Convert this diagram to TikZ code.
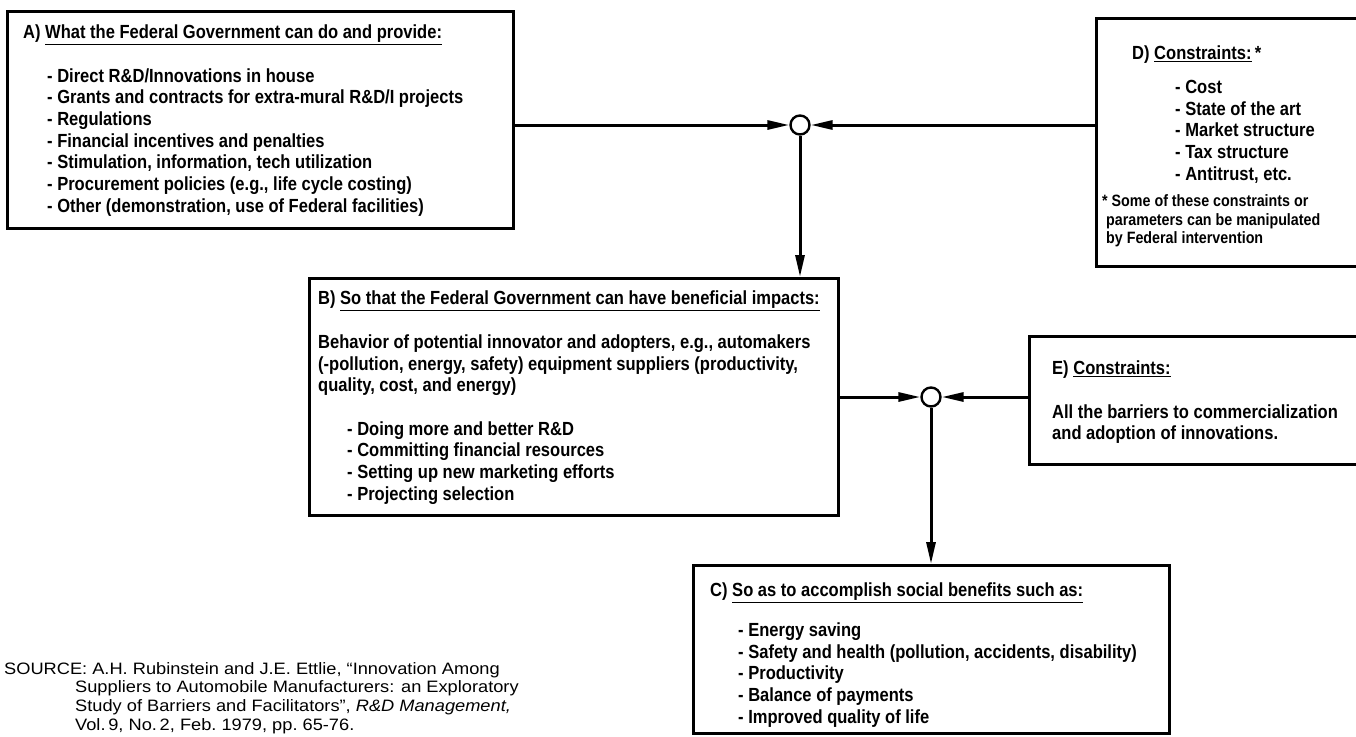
\documentclass[tikz,border=0pt]{standalone}
\usepackage{fontspec}
\setmainfont{Liberation Sans}
\newfontfamily\condfont{Liberation Sans}[FakeStretch=0.87]
\newfontfamily\srcfont{Liberation Sans}[FakeStretch=1.105]
\usetikzlibrary{arrows.meta,positioning,calc}

\newcommand{\footsize}{\fontsize{16.4}{18.5}\selectfont}

\tikzset{
  box/.style={draw, line width=2.6pt, anchor=north west, inner sep=0pt},
  boxtext/.style={align=left, inner sep=0pt,
    font=\condfont\bfseries\fontsize{19}{21.7}\selectfont},
  junction/.style={circle, draw, line width=2.4pt, fill=white, minimum size=19pt, inner sep=0pt},
  link/.style={line width=3pt, -{Triangle[length=22pt,width=9pt]}},
}

\begin{document}
\begin{tikzpicture}[x=1pt,y=-1pt]
  \useasboundingbox (0,0) rectangle (1356,736);
  \fill[white] (0,0) rectangle (1356,736);
  % boxes
  \node[box, minimum width=506pt, minimum height=217pt] (A) at (6,10) {};
  \node[box, minimum width=320pt, minimum height=248pt] (D) at (1095,17) {};
  \node[box, minimum width=529pt, minimum height=237pt] (B) at (308,277) {};
  \node[box, minimum width=340pt, minimum height=128pt] (E) at (1028,335) {};
  \node[box, minimum width=476pt, minimum height=168pt] (C) at (692,564) {};
  % box texts
  \node[boxtext, below right=14.4pt and 17pt of A.north west] (At)
    {A) \underline{What the Federal Government can do and provide:}\\[22pt]
     \hspace*{24pt}- Direct R\&D/Innovations in house\\
     \hspace*{24pt}- Grants and contracts for extra-mural R\&D/I projects\\
     \hspace*{24pt}- Regulations\\
     \hspace*{24pt}- Financial incentives and penalties\\
     \hspace*{24pt}- Stimulation, information, tech utilization\\
     \hspace*{24pt}- Procurement policies (e.g., life cycle costing)\\
     \hspace*{24pt}- Other (demonstration, use of Federal facilities)};
  \node[boxtext, below right=28.4pt and 7pt of D.north west] (Dt)
    {\hspace*{30pt}D) \underline{Constraints:}\thinspace*\\[12.3pt]
     \hspace*{73pt}- Cost\\
     \hspace*{73pt}- State of the art\\
     \hspace*{73pt}- Market structure\\
     \hspace*{73pt}- Tax structure\\
     \hspace*{73pt}- Antitrust, etc.\\[5pt]
     \footsize * Some of these constraints or\\[-3.2pt]
     \footsize \hspace*{4pt}parameters can be manipulated\\[-3.2pt]
     \footsize \hspace*{4pt}by Federal intervention};
  \node[boxtext, below right=13.4pt and 10pt of B.north west] (Bt)
    {B) \underline{So that the Federal Government can have beneficial impacts:}\\[22.5pt]
     Behavior of potential innovator and adopters, e.g., automakers\\
     (-pollution, energy, safety) equipment suppliers (productivity,\\
     quality, cost, and energy)\\[21.5pt]
     \hspace*{29pt}- Doing more and better R\&D\\
     \hspace*{29pt}- Committing financial resources\\
     \hspace*{29pt}- Setting up new marketing efforts\\
     \hspace*{29pt}- Projecting selection};
  \node[boxtext, below right=25.4pt and 24pt of E.north west] (Et)
    {E) \underline{Constraints:}\\[22pt]
     All the barriers to commercialization\\
     and adoption of innovations.};
  \node[boxtext, below right=18.4pt and 18pt of C.north west] (Ct)
    {C) \underline{So as to accomplish social benefits such as:}\\[18.5pt]
     \hspace*{28pt}- Energy saving\\
     \hspace*{28pt}- Safety and health (pollution, accidents, disability)\\
     \hspace*{28pt}- Productivity\\
     \hspace*{28pt}- Balance of payments\\
     \hspace*{28pt}- Improved quality of life};
  % junctions
  \node[junction] (j1) at (800,125) {};
  \node[junction] (j2) at (931,397) {};
  % connectors
  \draw[link] (A.east |- j1) -- (j1);
  \draw[link] (D.west |- j1) -- (j1);
  \draw[link] (j1) -- (j1 |- B.north);
  \draw[link] (B.east |- j2) -- (j2);
  \draw[link] (E.west |- j2) -- (j2);
  \draw[link] (j2) -- (j2 |- C.north);
  % source note
  \node[anchor=north west, align=left, inner sep=0pt,
    font=\srcfont\fontsize{16.5}{18.7}\selectfont] (src) at (4,662)
    {SOURCE: A.H. Rubinstein and J.E. Ettlie, “Innovation Among\\
     \hspace*{71pt}Suppliers to Automobile Manufacturers: an Exploratory\\
     \hspace*{71pt}Study of Barriers and Facilitators”, \textit{R\&D Management,}\\
     \hspace*{71pt}Vol.\,9, No.\,2, Feb.\ 1979, pp.\ 65-76.};
\end{tikzpicture}
\end{document}
